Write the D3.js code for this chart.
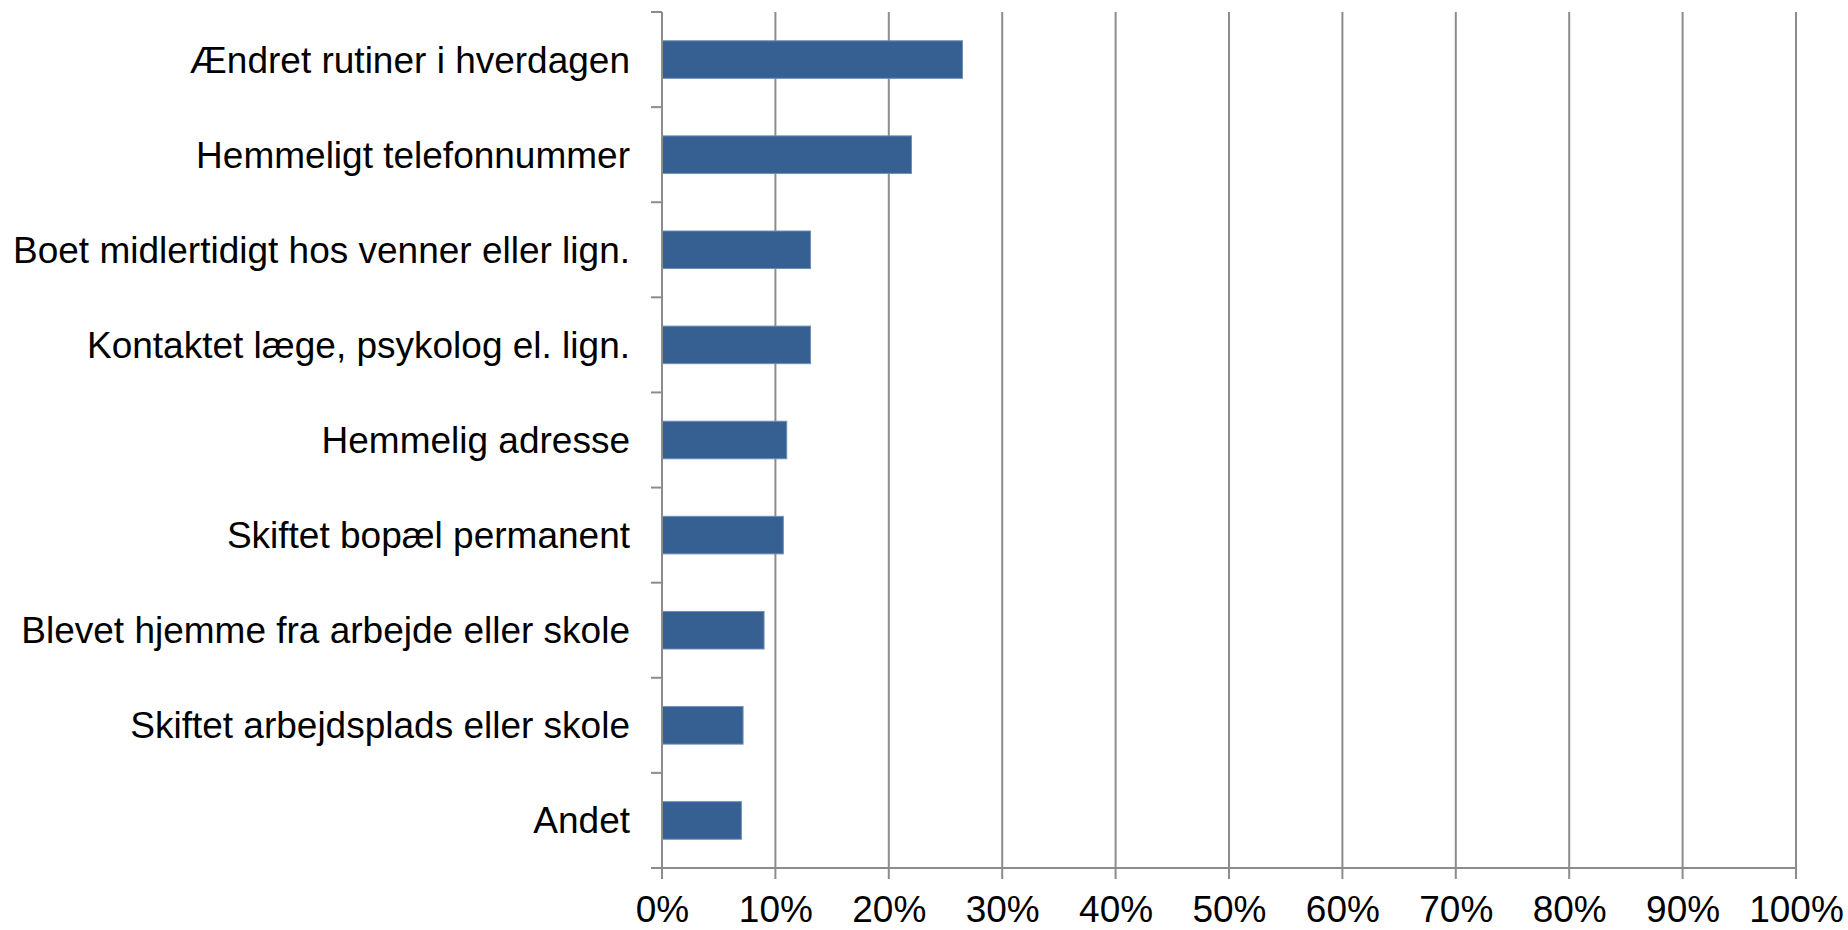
<!DOCTYPE html>
<html>
<head>
<meta charset="utf-8">
<script src="https://cdn.jsdelivr.net/npm/d3@7/dist/d3.min.js"></script>
<style>
    html, body { margin: 0; padding: 0; background: #fff; }
    svg text { font-family: "Liberation Sans", Arial, sans-serif; fill: #000; }
</style>
</head>
<body>
<div id="chart"></div>
<script>
// Datos (de arriba a abajo)
let categorias = [
    'Ændret rutiner i hverdagen',
    'Hemmeligt telefonnummer',
    'Boet midlertidigt hos venner eller lign.',
    'Kontaktet læge, psykolog el. lign.',
    'Hemmelig adresse',
    'Skiftet bopæl permanent',
    'Blevet hjemme fra arbejde eller skole',
    'Skiftet arbejdsplads eller skole',
    'Andet'
];
let valores = [26.5, 22.0, 13.1, 13.1, 11.0, 10.7, 9.0, 7.15, 7.0];
let ticksX = [0, 10, 20, 30, 40, 50, 60, 70, 80, 90, 100];

let margin = {top: 12, right: 52, bottom: 62, left: 662};
let width = 1848 - margin.left - margin.right,
    height = 930 - margin.top - margin.bottom;

let svg = d3.select('#chart')
    .append('svg')
    .attr('width', 1848)
    .attr('height', 930);

let chart = svg.append('g')
    .attr('transform', 'translate(' + margin.left + ',' + margin.top + ')');

//Eje X
let x_c = d3.scaleLinear()
    .domain([0, 100])
    .range([0, width]);

//Eje Y
let y_c = d3.scaleBand()
    .domain(categorias)
    .range([0, height]);

//Etiquetas eje X
let xAxis = chart.append('g')
    .attr('transform', 'translate(0,' + height + ')')
    .call(d3.axisBottom(x_c).tickValues(ticksX).tickSize(0).tickFormat(function(d) { return d + '%'; }));
xAxis.select('.domain').remove();
xAxis.selectAll('.tick text')
    .attr('y', 54)
    .attr('dy', 0)
    .style('font-size', '37px');

//Líneas de rejilla
chart.append('g')
    .selectAll('line')
    .data(ticksX)
    .enter()
    .append('line')
    .attr('x1', function(d) { return x_c(d); })
    .attr('x2', function(d) { return x_c(d); })
    .attr('y1', 0)
    .attr('y2', height + 11)
    .attr('stroke', '#8c8c8c')
    .attr('stroke-width', 2);

//Ticks del eje Y (en los bordes de banda)
let bordes = categorias.map(function(d) { return y_c(d); }).concat([height]);
chart.append('g')
    .selectAll('line')
    .data(bordes)
    .enter()
    .append('line')
    .attr('x1', -11)
    .attr('x2', 0)
    .attr('y1', function(d) { return d; })
    .attr('y2', function(d) { return d; })
    .attr('stroke', '#8c8c8c')
    .attr('stroke-width', 2);

//Línea base eje X
chart.append('line')
    .attr('x1', -11)
    .attr('x2', width)
    .attr('y1', height)
    .attr('y2', height)
    .attr('stroke', '#8c8c8c')
    .attr('stroke-width', 2);

//Barras
let altoBarra = y_c.bandwidth() * 0.395;
chart.selectAll('.bar')
    .data(valores)
    .enter()
    .append('rect')
    .attr('class', 'bar')
    .attr('x', x_c(0))
    .attr('y', function(d, i) { return y_c(categorias[i]) + y_c.bandwidth() / 2 - altoBarra / 2; })
    .attr('width', function(d) { return x_c(d) - x_c(0); })
    .attr('height', altoBarra)
    .attr('fill', '#366092')
    .attr('stroke', '#6f8fb8')
    .attr('stroke-width', 1);

//Línea eje Y
chart.append('line')
    .attr('x1', 0)
    .attr('x2', 0)
    .attr('y1', 0)
    .attr('y2', height + 11)
    .attr('stroke', '#8c8c8c')
    .attr('stroke-width', 2);

//Etiquetas de categoría
chart.append('g')
    .selectAll('text')
    .data(categorias)
    .enter()
    .append('text')
    .attr('x', -32)
    .attr('y', function(d) { return y_c(d) + y_c.bandwidth() / 2; })
    .attr('dy', '0.35em')
    .attr('text-anchor', 'end')
    .style('font-size', '37px')
    .text(function(d) { return d; });
</script>
</body>
</html>
